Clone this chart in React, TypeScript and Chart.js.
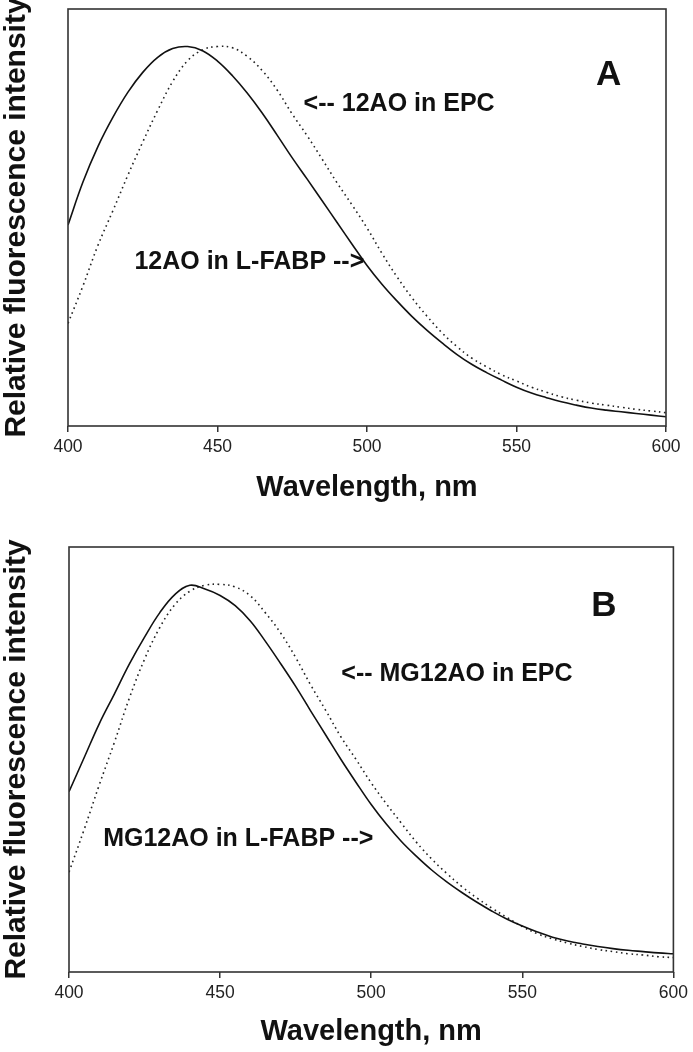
import React, { useEffect, useRef } from "react";
import { Chart, registerables } from "chart.js";

Chart.register(...registerables);

// ---------- data ----------
const WAVELENGTHS = [
  400, 405, 410, 415, 420, 425, 430, 435, 440, 445, 450, 455, 460, 465, 470, 475, 480, 485, 490, 495,
  500, 505, 510, 515, 520, 525, 530, 535, 540, 545, 550, 555, 560, 565, 570, 575, 580, 585, 590, 595, 600,
];

// Panel A: 12AO
const A_LFABP = [
  48.2, 58.5, 67.0, 74.0, 80.0, 84.8, 88.4, 90.5, 91.0, 90.0, 87.5, 84.0, 79.8, 75.0, 69.7, 64.3, 59.2, 54.0, 48.8, 43.6,
  38.5, 34.0, 30.0, 26.3, 23.0, 20.0, 17.2, 14.8, 12.8, 11.0, 9.3, 7.9, 6.8, 5.8, 5.0, 4.3, 3.8, 3.4, 3.0, 2.6, 2.2,
];
const A_EPC = [
  24.6, 33.6, 43.3, 51.6, 60.1, 68.1, 75.7, 82.6, 87.6, 90.2, 91.0, 90.7, 88.6, 85.2, 80.5, 74.8, 69.6, 64.0, 58.3, 53.0,
  47.5, 41.4, 35.8, 30.8, 26.4, 22.4, 19.1, 16.3, 14.2, 12.3, 10.8, 9.3, 8.1, 7.0, 6.2, 5.5, 5.0, 4.5, 4.0, 3.6, 3.2,
];

// Panel B: MG12AO
const B_LFABP = [
  42.4, 50.4, 58.4, 65.4, 72.5, 78.8, 84.5, 88.8, 91.0, 90.1, 88.6, 86.2, 82.6, 77.8, 72.6, 67.2, 61.4, 55.7, 50.0, 44.6,
  39.4, 34.8, 30.7, 27.2, 24.0, 21.2, 18.7, 16.4, 14.3, 12.4, 10.8, 9.4, 8.2, 7.3, 6.6, 6.0, 5.5, 5.1, 4.8, 4.5, 4.3,
];
const B_EPC = [
  23.5, 33.5, 44.0, 54.0, 64.5, 73.6, 81.0, 86.4, 89.6, 91.0, 91.2, 90.6, 88.5, 84.5, 79.8, 74.0, 67.5, 61.5, 55.3, 50.0,
  44.5, 39.6, 35.0, 30.5, 26.6, 23.2, 20.1, 17.4, 15.0, 12.8, 10.7, 9.0, 7.8, 6.8, 6.0, 5.3, 4.8, 4.3, 4.0, 3.6, 3.4,
];

const X_TICKS = [400, 450, 500, 550, 600];
const X_TITLE = "Wavelength, nm";
const Y_TITLE = "Relative fluorescence intensity";

// annotation texts and their anchors in data units (nm, intensity)
const A_NOTES = ["A", "<-- 12AO in EPC", "12AO in L-FABP -->"];
const A_NOTE_NM = [580.8, 478.8, 422.2];
const A_NOTE_VAL = [84.0, 77.3, 39.2];

const B_NOTES = ["B", "<-- MG12AO in EPC", "MG12AO in L-FABP -->"];
const B_NOTE_NM = [577.0, 490.1, 411.3];
const B_NOTE_VAL = [86.0, 70.0, 31.3];

// ---------- chart setup ----------
const FONT = "'Liberation Sans', Arial, Helvetica, sans-serif";

type PanelSpec = {
  solid: number[];
  dotted: number[];
  notes: string[];
  notesNm: number[];
  notesVal: number[];
  height: number;
  padTop: number;
  padRight: number;
  yWidth: number;
  xHeight: number;
  xTitlePad: number;
};

const boxPlugin = {
  id: "frameBox",
  afterDatasetsDraw(chart: any) {
    const { ctx, chartArea } = chart;
    ctx.save();
    ctx.strokeStyle = "#333";
    ctx.lineWidth = 1.6;
    ctx.strokeRect(chartArea.left, chartArea.top, chartArea.right - chartArea.left, chartArea.bottom - chartArea.top);
    ctx.restore();
  },
};

function notesPlugin(notes: string[], nm: number[], val: number[]) {
  return {
    id: "notes",
    afterDraw(chart: any) {
      const { ctx, scales } = chart;
      ctx.save();
      ctx.fillStyle = "#111";
      ctx.textBaseline = "middle";
      notes.forEach((t, i) => {
        const px = scales.x.getPixelForValue(nm[i]);
        const py = scales.y.getPixelForValue(val[i]);
        if (i === 0) {
          ctx.font = `bold 35px ${FONT}`;
          ctx.textAlign = "center";
        } else {
          ctx.font = `bold 25px ${FONT}`;
          ctx.textAlign = "left";
        }
        ctx.fillText(t, px, py);
      });
      ctx.restore();
    },
  };
}

function Panel({ spec }: { spec: PanelSpec }) {
  const ref = useRef<HTMLCanvasElement | null>(null);
  useEffect(() => {
    if (!ref.current) return;
    const toPts = (arr: number[]) => WAVELENGTHS.map((w, i) => ({ x: w, y: arr[i] }));
    const chart = new Chart(ref.current, {
      type: "line",
      data: {
        datasets: [
          {
            label: "L-FABP",
            data: toPts(spec.solid),
            borderColor: "#111",
            borderWidth: 1.6,
            pointRadius: 0,
            tension: 0.4,
            fill: false,
          },
          {
            label: "EPC",
            data: toPts(spec.dotted),
            borderColor: "#222",
            borderWidth: 1.6,
            borderDash: [1.6, 3.6],
            pointRadius: 0,
            tension: 0.4,
            fill: false,
          },
        ],
      },
      options: {
        animation: false,
        responsive: false,
        maintainAspectRatio: false,
        layout: { padding: { top: spec.padTop, right: spec.padRight, left: 0, bottom: 0 } },
        plugins: {
          legend: { display: false },
          tooltip: { enabled: false },
        },
        scales: {
          x: {
            type: "linear",
            min: 400,
            max: 600,
            afterBuildTicks: (scale: any) => {
              scale.ticks = X_TICKS.map((v) => ({ value: v }));
            },
            afterFit: (scale: any) => {
              scale.height = spec.xHeight;
            },
            ticks: {
              font: { family: FONT, size: 17.5 },
              color: "#222",
              padding: 5,
              maxRotation: 0,
              autoSkip: false,
            },
            grid: {
              display: true,
              drawOnChartArea: false,
              drawTicks: true,
              tickLength: 6,
              color: "#333",
              lineWidth: 1.5,
            },
            border: { display: false },
            title: {
              display: true,
              text: X_TITLE,
              color: "#111",
              font: { family: FONT, size: 29, weight: "bold", lineHeight: 1.2 },
              padding: { top: 0, bottom: spec.xTitlePad },
            },
          },
          y: {
            type: "linear",
            min: 0,
            max: 100,
            afterFit: (scale: any) => {
              scale.width = spec.yWidth;
            },
            ticks: { display: false },
            grid: { display: false },
            border: { display: false },
            title: {
              display: true,
              text: Y_TITLE,
              color: "#111",
              font: { family: FONT, size: 30, weight: "bold", lineHeight: 1 },
              padding: { top: 1.5, bottom: 0 },
            },
          },
        },
      } as any,
      plugins: [boxPlugin, notesPlugin(spec.notes, spec.notesNm, spec.notesVal)],
    });
    return () => chart.destroy();
  }, [spec]);
  return <canvas ref={ref} width={693} height={spec.height} style={{ display: "block", width: 693, height: spec.height }} />;
}

const PANEL_A: PanelSpec = {
  solid: A_LFABP,
  dotted: A_EPC,
  notes: A_NOTES,
  notesNm: A_NOTE_NM,
  notesVal: A_NOTE_VAL,
  height: 520,
  padTop: 9,
  padRight: 27,
  yWidth: 68,
  xHeight: 94,
  xTitlePad: 14.6,
};

const PANEL_B: PanelSpec = {
  solid: B_LFABP,
  dotted: B_EPC,
  notes: B_NOTES,
  notesNm: B_NOTE_NM,
  notesVal: B_NOTE_VAL,
  height: 532,
  padTop: 27,
  padRight: 15,
  yWidth: 69,
  xHeight: 80,
  xTitlePad: 2.9,
};

export default function App() {
  return (
    <div style={{ position: "absolute", left: 0, top: 0, width: 693, height: 1052, background: "#fff" }}>
      <Panel spec={PANEL_A} />
      <Panel spec={PANEL_B} />
    </div>
  );
}
